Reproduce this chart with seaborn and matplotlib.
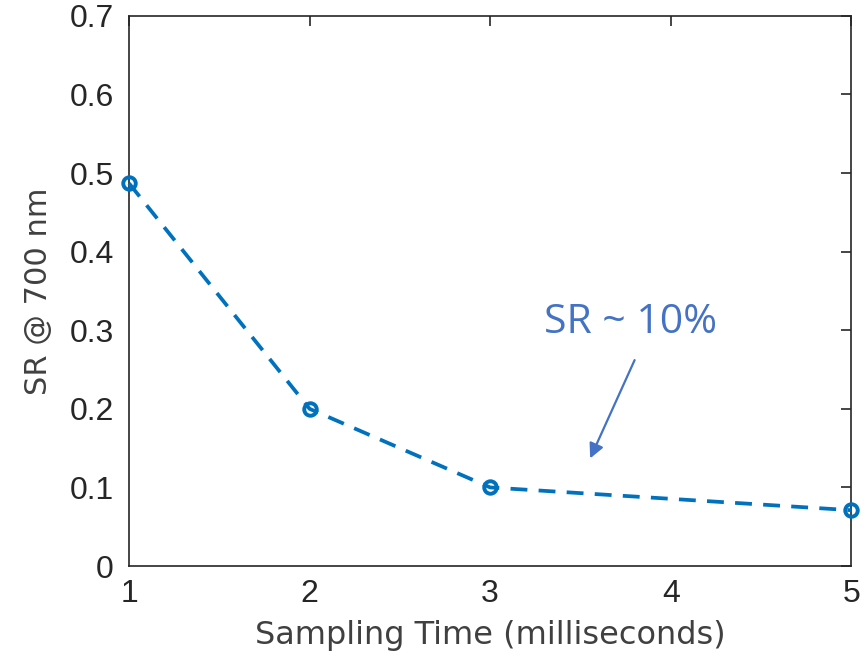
import matplotlib
matplotlib.use("Agg")
import matplotlib.pyplot as plt
import seaborn as sns
import pandas as pd

# Data
sampling_time = [1, 2, 3, 5]
sr_values = [0.487, 0.200, 0.100, 0.071]
x_ticks = [1, 2, 3, 4, 5]
y_ticks = [0, 0.1, 0.2, 0.3, 0.4, 0.5, 0.6, 0.7]
annotation_text = "SR ~ 10%"

sns.set_style("white")
plt.rcParams['font.family'] = ['Liberation Sans', 'DejaVu Sans']

df = pd.DataFrame({"t": sampling_time, "sr": sr_values})

fig = plt.figure(figsize=(8.66, 6.6), dpi=100)
ax = fig.add_axes([0.149, 0.1424, 0.834, 0.8335])

line_color = "#0072BD"
sns.lineplot(data=df, x="t", y="sr", ax=ax, color=line_color, linewidth=2.7,
             marker="o", markersize=9, markerfacecolor="none",
             markeredgecolor=line_color, markeredgewidth=2.8, clip_on=False)
ax.lines[0].set_linestyle((0, (4.5, 3)))
ax.lines[0].set_zorder(5)

ax.set_xlim(1, 5)
ax.set_ylim(0, 0.7)
ax.set_xticks(x_ticks)
ax.set_yticks(y_ticks)
ax.set_xticklabels([str(v) for v in x_ticks])
ax.set_yticklabels(["0"] + [f"{v:.1f}" for v in y_ticks[1:]])
ax.tick_params(direction="in", length=7, width=1.2, colors="#262626",
               labelsize=23, top=True, right=True)
ax.tick_params(axis="y", pad=11)
ax.tick_params(axis="x", pad=9)
for s in ax.spines.values():
    s.set_color("#262626")
    s.set_linewidth(1.2)
    s.set_visible(True)

ax.set_xlabel("Sampling Time (milliseconds)", fontsize=23, color="#404040",
              family=["DejaVu Sans"], labelpad=8)
ax.set_ylabel("SR @ 700 nm", fontsize=22, color="#404040",
              family=["DejaVu Sans"], labelpad=12)

ann_color = "#4472C4"
ax.text(3.30, 0.31, annotation_text, fontsize=29.5, color=ann_color,
        family=["Open Sans", "DejaVu Sans"], va="center", ha="left")
ax.annotate("", xy=(3.554, 0.137), xytext=(3.80, 0.262),
            arrowprops=dict(arrowstyle="-|>", color=ann_color, lw=1.6,
                            mutation_scale=22, shrinkA=0, shrinkB=0))

fig.savefig("out.png", dpi=100)
